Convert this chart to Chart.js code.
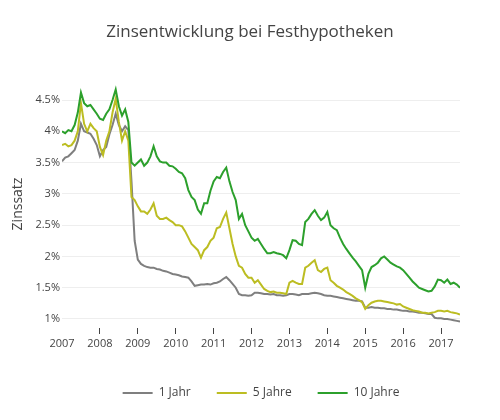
<!DOCTYPE html>
<html>
<head>
<meta charset="utf-8">
<title>Zinsentwicklung bei Festhypotheken</title>
<script src="https://cdn.jsdelivr.net/npm/chart.js@4.4.0/dist/chart.umd.min.js"></script>
<style>
  html, body { margin: 0; padding: 0; background: #fff; }
  #wrap { width: 500px; height: 420px; }
</style>
</head>
<body>
<div id="wrap"><canvas id="myChart"></canvas></div>
<script>
// Monate (Jan 2007 - Jul 2017)
var monate = [
  '2007-01','2007-02','2007-03','2007-04','2007-05','2007-06','2007-07','2007-08','2007-09','2007-10','2007-11','2007-12',
  '2008-01','2008-02','2008-03','2008-04','2008-05','2008-06','2008-07','2008-08','2008-09','2008-10','2008-11','2008-12',
  '2009-01','2009-02','2009-03','2009-04','2009-05','2009-06','2009-07','2009-08','2009-09','2009-10','2009-11','2009-12',
  '2010-01','2010-02','2010-03','2010-04','2010-05','2010-06','2010-07','2010-08','2010-09','2010-10','2010-11','2010-12',
  '2011-01','2011-02','2011-03','2011-04','2011-05','2011-06','2011-07','2011-08','2011-09','2011-10','2011-11','2011-12',
  '2012-01','2012-02','2012-03','2012-04','2012-05','2012-06','2012-07','2012-08','2012-09','2012-10','2012-11','2012-12',
  '2013-01','2013-02','2013-03','2013-04','2013-05','2013-06','2013-07','2013-08','2013-09','2013-10','2013-11','2013-12',
  '2014-01','2014-02','2014-03','2014-04','2014-05','2014-06','2014-07','2014-08','2014-09','2014-10','2014-11','2014-12',
  '2015-01','2015-02','2015-03','2015-04','2015-05','2015-06','2015-07','2015-08','2015-09','2015-10','2015-11','2015-12',
  '2016-01','2016-02','2016-03','2016-04','2016-05','2016-06','2016-07','2016-08','2016-09','2016-10','2016-11','2016-12',
  '2017-01','2017-02','2017-03','2017-04','2017-05','2017-06','2017-07'
];

// Zinssatz in %
var jahr1 = [
  3.52, 3.58, 3.60, 3.65, 3.70, 3.85, 4.12, 4.00, 3.98, 3.96, 3.88, 3.78,
  3.60, 3.70, 3.75, 3.95, 4.10, 4.28, 4.10, 4.00, 4.08, 4.02, 3.20, 2.25,
  1.95, 1.88, 1.85, 1.83, 1.82, 1.82, 1.80, 1.79, 1.77, 1.76, 1.74, 1.72,
  1.71, 1.70, 1.68, 1.67, 1.66, 1.60, 1.53, 1.54, 1.55, 1.55, 1.56, 1.55,
  1.57, 1.58, 1.60, 1.64, 1.67, 1.62, 1.56, 1.50, 1.40, 1.38, 1.38, 1.37,
  1.38, 1.42, 1.42, 1.41, 1.40, 1.40, 1.39, 1.40, 1.38, 1.38, 1.37, 1.38,
  1.40, 1.40, 1.39, 1.38, 1.40, 1.40, 1.40, 1.41, 1.42, 1.41, 1.40, 1.38,
  1.37, 1.37, 1.36, 1.35, 1.34, 1.33, 1.32, 1.31, 1.30, 1.29, 1.29, 1.28,
  1.18, 1.18, 1.19, 1.18, 1.18, 1.17, 1.17, 1.16, 1.16, 1.15, 1.15, 1.14,
  1.13, 1.13, 1.12, 1.12, 1.11, 1.10, 1.10, 1.09, 1.08, 1.08, 1.02, 1.01,
  1.01, 1.00, 1.00, 0.99, 0.98, 0.97, 0.96
];

var jahre5 = [
  3.78, 3.80, 3.76, 3.78, 3.85, 4.00, 4.45, 4.12, 4.00, 4.12, 4.05, 4.00,
  3.75, 3.62, 3.85, 4.00, 4.30, 4.52, 4.15, 3.85, 4.00, 3.85, 2.95, 2.90,
  2.80, 2.72, 2.72, 2.68, 2.75, 2.85, 2.65, 2.60, 2.60, 2.62, 2.58, 2.55,
  2.50, 2.50, 2.48, 2.40, 2.30, 2.20, 2.15, 2.10, 1.98, 2.10, 2.15, 2.25,
  2.30, 2.45, 2.47, 2.60, 2.70, 2.45, 2.20, 2.00, 1.85, 1.82, 1.72, 1.66,
  1.66, 1.58, 1.62, 1.55, 1.48, 1.45, 1.43, 1.44, 1.42, 1.42, 1.41, 1.40,
  1.58, 1.61, 1.58, 1.56, 1.56, 1.82, 1.85, 1.90, 1.94, 1.78, 1.75, 1.80,
  1.82, 1.62, 1.58, 1.53, 1.50, 1.47, 1.43, 1.40, 1.37, 1.33, 1.30, 1.27,
  1.16, 1.22, 1.26, 1.28, 1.29, 1.29, 1.28, 1.27, 1.26, 1.25, 1.23, 1.24,
  1.20, 1.18, 1.16, 1.14, 1.13, 1.12, 1.10, 1.10, 1.09, 1.10, 1.11, 1.13,
  1.13, 1.12, 1.13, 1.11, 1.10, 1.09, 1.07
];

var jahre10 = [
  4.00, 3.97, 4.02, 4.00, 4.10, 4.30, 4.62, 4.45, 4.40, 4.42, 4.35, 4.28,
  4.20, 4.18, 4.28, 4.35, 4.50, 4.67, 4.40, 4.25, 4.35, 4.15, 3.50, 3.45,
  3.50, 3.55, 3.45, 3.50, 3.60, 3.76, 3.60, 3.52, 3.50, 3.50, 3.45, 3.44,
  3.40, 3.35, 3.33, 3.25, 3.06, 2.95, 2.90, 2.75, 2.68, 2.85, 2.85, 3.05,
  3.20, 3.27, 3.25, 3.35, 3.42, 3.20, 3.03, 2.90, 2.60, 2.68, 2.50, 2.40,
  2.30, 2.25, 2.28, 2.20, 2.12, 2.05, 2.05, 2.07, 2.05, 2.04, 2.02, 1.97,
  2.10, 2.26, 2.25, 2.20, 2.18, 2.55, 2.60, 2.68, 2.74, 2.65, 2.58, 2.62,
  2.71, 2.50, 2.45, 2.42, 2.30, 2.20, 2.12, 2.05, 1.98, 1.92, 1.85, 1.78,
  1.50, 1.72, 1.83, 1.86, 1.90, 1.97, 2.00, 1.95, 1.90, 1.87, 1.84, 1.82,
  1.78, 1.72, 1.66, 1.60, 1.55, 1.50, 1.48, 1.46, 1.44, 1.45, 1.52, 1.63,
  1.62, 1.58, 1.63, 1.56, 1.58, 1.55, 1.50
];

var serien = ['1 Jahr', '5 Jahre', '10 Jahre'];
var farben = ['#7f7f7f', '#bcbd22', '#2ca02c'];
var xTicks = [2007, 2008, 2009, 2010, 2011, 2012, 2013, 2014, 2015, 2016, 2017];
var yTicks = [1, 1.5, 2, 2.5, 3, 3.5, 4, 4.5];

// 'YYYY-MM' -> Jahr als Dezimalzahl
function monatZuJahr(m) {
  var teile = m.split('-');
  return parseInt(teile[0]) + (parseInt(teile[1]) - 1) / 12;
}

function punkte(werte) {
  var res = [];
  for (var i = 0; i < monate.length; i++) {
    res.push({ x: monatZuJahr(monate[i]), y: werte[i] });
  }
  return res;
}

var alleWerte = [jahr1, jahre5, jahre10];
var datasets = [];
for (var i = 0; i < serien.length; i++) {
  datasets.push({
    label: serien[i],
    data: punkte(alleWerte[i]),
    borderColor: farben[i],
    backgroundColor: farben[i],
    borderWidth: 2,
    pointRadius: 0,
    tension: 0,
    order: serien.length - i   // 10 Jahre oben drauf
  });
}

Chart.defaults.font.family = '"Open Sans", sans-serif';
Chart.defaults.color = '#444';

var ctx = document.getElementById('myChart').getContext('2d');
var chart = new Chart(ctx, {
  type: 'line',
  data: { datasets: datasets },
  options: {
    responsive: true,
    maintainAspectRatio: false,
    animation: false,
    layout: { padding: { left: 0, right: 0, top: 0, bottom: 11 } },
    plugins: {
      title: {
        display: true,
        text: 'Zinsentwicklung bei Festhypotheken',
        color: '#444',
        font: { size: 17, weight: 'normal' },
        padding: { top: 22, bottom: 37.6 }
      },
      legend: {
        display: true,
        position: 'bottom',
        fullSize: false,
        labels: {
          usePointStyle: true,
          pointStyle: 'line',
          pointStyleWidth: 30,
          padding: 26,
          color: '#444',
          font: { size: 12 },
          sort: function (a, b) { return a.datasetIndex - b.datasetIndex; }
        }
      },
      tooltip: { enabled: false }
    },
    scales: {
      x: {
        type: 'linear',
        min: 2007,
        max: 2017.5,
        afterBuildTicks: function (scale) {
          scale.ticks = xTicks.map(function (v) { return { value: v }; });
        },
        afterFit: function (scale) { scale.height = 33; },
        border: { display: false },
        grid: {
          drawOnChartArea: false,
          drawTicks: true,
          tickLength: 6,
          color: function (c) { return c.tick && c.tick.value === 2007 ? 'rgba(0,0,0,0)' : '#444'; }
        },
        ticks: {
          padding: 3,
          maxRotation: 0,
          autoSkip: false,
          font: { size: 11 },
          color: '#444',
          callback: function (v) { return String(v); }
        }
      },
      y: {
        min: 0.856,
        max: 4.82,
        afterBuildTicks: function (scale) {
          scale.ticks = yTicks.map(function (v) { return { value: v }; });
        },
        afterFit: function (scale) { scale.width = 62; },
        border: { display: false },
        grid: { color: '#eee', lineWidth: 1, drawTicks: false },
        title: {
          display: true,
          text: 'Zinssatz',
          color: '#444',
          font: { size: 14 },
          padding: { top: 10, bottom: 0 }
        },
        ticks: {
          padding: 2,
          font: { size: 11 },
          color: '#444',
          callback: function (v) { return v + '%'; }
        }
      },
      // leerer Rand rechts, damit der Titel mittig ueber der Seite steht
      rand: {
        position: 'right',
        min: 0,
        max: 1,
        afterFit: function (scale) { scale.width = 40; },
        border: { display: false },
        grid: { display: false },
        ticks: { display: false }
      }
    }
  }
});
</script>
</body>
</html>
